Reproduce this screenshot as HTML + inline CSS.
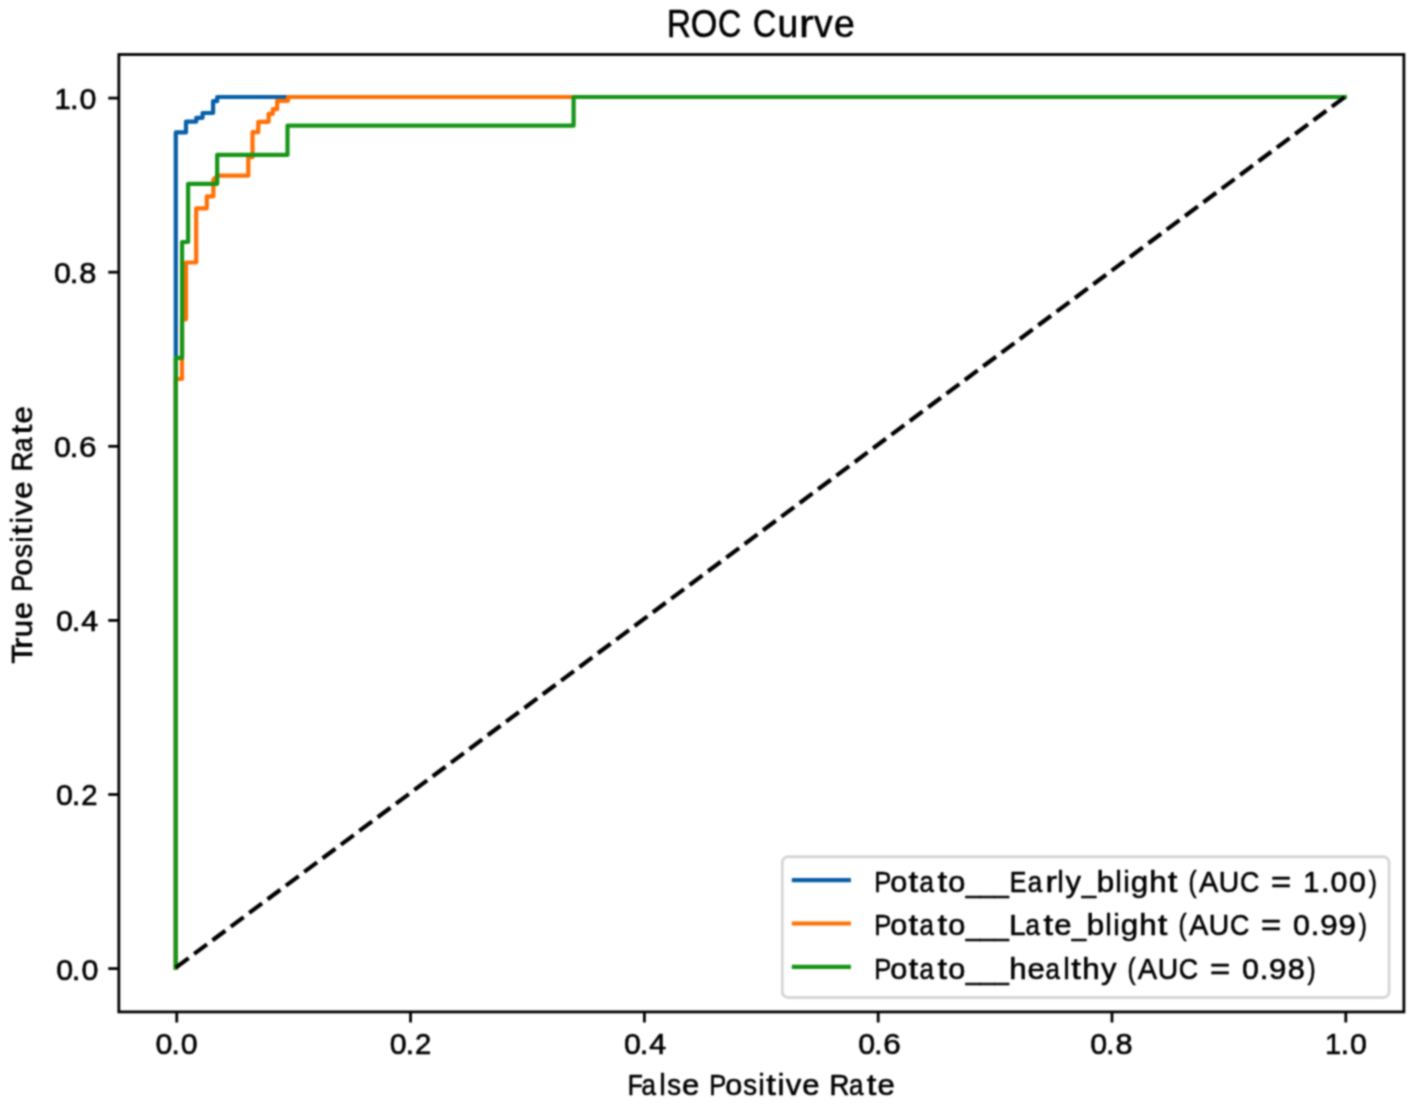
<!DOCTYPE html>
<html>
<head>
<meta charset="utf-8">
<title>ROC Curve</title>
<style>
html,body{margin:0;padding:0;background:#fff;}
body{width:1417px;height:1106px;overflow:hidden;}
svg{display:block;}
text{font-family:"Liberation Sans",sans-serif;fill:#000;stroke:#000;stroke-width:0.6;stroke-linejoin:round;}
</style>
</head>
<body>
<svg width="1417" height="1106" viewBox="0 0 1417 1106">
<defs><filter id="soft" x="0" y="0" width="1417" height="1106" filterUnits="userSpaceOnUse" color-interpolation-filters="sRGB"><feConvolveMatrix order="5" kernelMatrix="0.00087 0.00695 0.01388 0.00695 0.00087 0.00695 0.05540 0.11068 0.05540 0.00695 0.01388 0.11068 0.22111 0.11068 0.01388 0.00695 0.05540 0.11068 0.05540 0.00695 0.00087 0.00695 0.01388 0.00695 0.00087" divisor="1" edgeMode="duplicate" preserveAlpha="false"/></filter></defs>
<rect x="0" y="0" width="1417" height="1106" fill="#fff"/>
<g filter="url(#soft)">
<g><text transform="translate(679.57,36.60) scale(0.860,1)" x="-14.59" font-size="38.50">R</text><text transform="translate(704.00,36.60) scale(0.888,1)" x="-14.96" font-size="38.50">O</text><text transform="translate(729.73,36.60) scale(0.834,1)" x="-14.15" font-size="38.50">C</text><text transform="translate(764.89,36.60) scale(0.834,1)" x="-14.15" font-size="38.50">C</text><text transform="translate(787.80,36.60) scale(0.969,1)" x="-10.68" font-size="38.50">u</text><text transform="translate(807.55,36.60) scale(1.150,1)" x="-7.37" font-size="38.50">r</text><text transform="translate(823.33,36.60) scale(0.970,1)" x="-9.62" font-size="38.50">v</text><text transform="translate(844.24,36.60) scale(0.971,1)" x="-10.67" font-size="38.50">e</text></g>
<g fill="none" stroke-width="4.2" stroke-linejoin="round" stroke-linecap="square">
<polyline stroke="#075fa8" points="175.8,967.6 175.8,132.4 186,132.4 186,121.6 196.3,121.6 196.3,117.8 202.6,117.8 202.6,113 213.1,113 213.1,101.2 217.2,101.2 217.2,97 1344.8,97"/>
<polyline stroke="#ff7005" points="175.8,967.6 175.8,379 182,379 182,319.3 186,319.3 186,262.5 196.2,262.5 196.2,208.3 206.8,208.3 206.8,196.3 213.4,196.3 213.4,179.5 217.5,175.7 248.3,175.7 248.3,157.2 252.5,157.2 252.5,132.2 258.3,132.2 258.3,121.8 268.6,121.8 268.6,113.8 272.8,113.8 272.8,109.2 277.2,109.2 277.2,100.8 288,100.8 288,97 1344.8,97"/>
<polyline stroke="#169516" points="175.8,967.6 175.8,357.8 182.1,357.8 182.1,242 188.1,242 188.1,183.8 217.2,183.8 217.2,154.9 287.5,154.9 287.5,125.7 573.6,125.7 573.6,97 1344.8,97"/>
<line x1="175.8" y1="967.6" x2="1344.8" y2="97" stroke="#000" stroke-linecap="butt" stroke-dasharray="15.97 6.91"/>
</g>
<rect x="118.85" y="54.5" width="1285.05" height="957.40" fill="none" stroke="#000" stroke-width="2.8" stroke-linejoin="miter"/>
<g stroke="#000" stroke-width="2.8">
<line x1="108.25" y1="968.60" x2="118.85" y2="968.60"/>
<line x1="108.25" y1="794.50" x2="118.85" y2="794.50"/>
<line x1="108.25" y1="620.40" x2="118.85" y2="620.40"/>
<line x1="108.25" y1="446.30" x2="118.85" y2="446.30"/>
<line x1="108.25" y1="272.20" x2="118.85" y2="272.20"/>
<line x1="108.25" y1="98.10" x2="118.85" y2="98.10"/>
<line x1="176.75" y1="1011.90" x2="176.75" y2="1022.50"/>
<line x1="410.56" y1="1011.90" x2="410.56" y2="1022.50"/>
<line x1="644.37" y1="1011.90" x2="644.37" y2="1022.50"/>
<line x1="878.18" y1="1011.90" x2="878.18" y2="1022.50"/>
<line x1="1111.99" y1="1011.90" x2="1111.99" y2="1022.50"/>
<line x1="1345.80" y1="1011.90" x2="1345.80" y2="1022.50"/>
</g>
<g><text transform="translate(64.75,979.50) scale(1.014,1)" x="-8.34" font-size="30.00">0</text><text transform="translate(76.05,979.50) scale(1.040,1)" x="-4.17" font-size="30.00">.</text><text transform="translate(89.85,979.50) scale(1.014,1)" x="-8.34" font-size="30.00">0</text></g>
<g><text transform="translate(64.50,805.40) scale(1.014,1)" x="-8.34" font-size="30.00">0</text><text transform="translate(76.05,805.40) scale(1.040,1)" x="-4.17" font-size="30.00">.</text><text transform="translate(89.45,805.40) scale(0.977,1)" x="-8.34" font-size="30.00">2</text></g>
<g><text transform="translate(64.50,631.30) scale(1.014,1)" x="-8.34" font-size="30.00">0</text><text transform="translate(76.05,631.30) scale(1.040,1)" x="-4.17" font-size="30.00">.</text><text transform="translate(89.60,631.30) scale(1.014,1)" x="-8.25" font-size="30.00">4</text></g>
<g><text transform="translate(62.50,457.20) scale(1.014,1)" x="-8.34" font-size="30.00">0</text><text transform="translate(74.10,457.20) scale(1.040,1)" x="-4.17" font-size="30.00">.</text><text transform="translate(87.80,457.20) scale(1.049,1)" x="-8.45" font-size="30.00">6</text></g>
<g><text transform="translate(62.50,283.10) scale(1.014,1)" x="-8.34" font-size="30.00">0</text><text transform="translate(74.10,283.10) scale(1.040,1)" x="-4.17" font-size="30.00">.</text><text transform="translate(87.90,283.10) scale(1.025,1)" x="-8.34" font-size="30.00">8</text></g>
<g><text transform="translate(63.00,109.00) scale(0.968,1)" x="-8.75" font-size="30.00">1</text><text transform="translate(74.35,109.00) scale(1.040,1)" x="-4.17" font-size="30.00">.</text><text transform="translate(87.90,109.00) scale(1.014,1)" x="-8.34" font-size="30.00">0</text></g>
<g><text transform="translate(163.90,1054.00) scale(1.014,1)" x="-8.34" font-size="30.00">0</text><text transform="translate(175.60,1054.00) scale(1.040,1)" x="-4.17" font-size="30.00">.</text><text transform="translate(189.25,1054.00) scale(1.014,1)" x="-8.34" font-size="30.00">0</text></g>
<g><text transform="translate(398.31,1054.00) scale(1.014,1)" x="-8.34" font-size="30.00">0</text><text transform="translate(409.86,1054.00) scale(1.040,1)" x="-4.17" font-size="30.00">.</text><text transform="translate(423.21,1054.00) scale(0.977,1)" x="-8.34" font-size="30.00">2</text></g>
<g><text transform="translate(632.47,1054.00) scale(1.014,1)" x="-8.34" font-size="30.00">0</text><text transform="translate(643.97,1054.00) scale(1.040,1)" x="-4.17" font-size="30.00">.</text><text transform="translate(657.57,1054.00) scale(1.014,1)" x="-8.25" font-size="30.00">4</text></g>
<g><text transform="translate(866.68,1054.00) scale(1.014,1)" x="-8.34" font-size="30.00">0</text><text transform="translate(878.28,1054.00) scale(1.040,1)" x="-4.17" font-size="30.00">.</text><text transform="translate(892.08,1054.00) scale(1.049,1)" x="-8.45" font-size="30.00">6</text></g>
<g><text transform="translate(1098.79,1054.00) scale(1.014,1)" x="-8.34" font-size="30.00">0</text><text transform="translate(1110.39,1054.00) scale(1.040,1)" x="-4.17" font-size="30.00">.</text><text transform="translate(1124.09,1054.00) scale(1.025,1)" x="-8.34" font-size="30.00">8</text></g>
<g><text transform="translate(1333.40,1054.00) scale(0.968,1)" x="-8.75" font-size="30.00">1</text><text transform="translate(1344.80,1054.00) scale(1.040,1)" x="-4.17" font-size="30.00">.</text><text transform="translate(1358.40,1054.00) scale(1.014,1)" x="-8.34" font-size="30.00">0</text></g>
<g><text transform="translate(635.81,1094.80) scale(0.824,1)" x="-9.79" font-size="30.00">F</text><text transform="translate(649.28,1094.80) scale(0.865,1)" x="-8.98" font-size="30.00">a</text><text transform="translate(662.57,1094.80) scale(0.983,1)" x="-3.34" font-size="30.00">l</text><text transform="translate(674.17,1094.80) scale(0.922,1)" x="-7.38" font-size="30.00">s</text><text transform="translate(690.51,1094.80) scale(1.039,1)" x="-8.31" font-size="30.00">e</text><text transform="translate(718.15,1094.80) scale(0.850,1)" x="-10.45" font-size="30.00">P</text><text transform="translate(733.73,1094.80) scale(1.022,1)" x="-8.34" font-size="30.00">o</text><text transform="translate(750.14,1094.80) scale(0.922,1)" x="-7.38" font-size="30.00">s</text><text transform="translate(761.59,1094.80) scale(0.983,1)" x="-3.33" font-size="30.00">i</text><text transform="translate(771.29,1094.80) scale(1.150,1)" x="-4.29" font-size="30.00">t</text><text transform="translate(780.92,1094.80) scale(0.983,1)" x="-3.33" font-size="30.00">i</text><text transform="translate(793.46,1094.80) scale(1.038,1)" x="-7.50" font-size="30.00">v</text><text transform="translate(810.90,1094.80) scale(1.039,1)" x="-8.31" font-size="30.00">e</text><text transform="translate(839.94,1094.80) scale(0.920,1)" x="-11.37" font-size="30.00">R</text><text transform="translate(856.72,1094.80) scale(0.865,1)" x="-8.98" font-size="30.00">a</text><text transform="translate(871.70,1094.80) scale(1.150,1)" x="-4.29" font-size="30.00">t</text><text transform="translate(886.22,1094.80) scale(1.039,1)" x="-8.31" font-size="30.00">e</text></g>
<g><text transform="translate(32.00,654.18) rotate(-90) scale(1.049,1)" x="-9.16" font-size="30.00">T</text><text transform="translate(32.00,642.37) rotate(-90) scale(1.150,1)" x="-5.74" font-size="30.00">r</text><text transform="translate(32.00,628.69) rotate(-90) scale(1.037,1)" x="-8.32" font-size="30.00">u</text><text transform="translate(32.00,610.56) rotate(-90) scale(1.039,1)" x="-8.31" font-size="30.00">e</text><text transform="translate(32.00,582.92) rotate(-90) scale(0.850,1)" x="-10.45" font-size="30.00">P</text><text transform="translate(32.00,567.34) rotate(-90) scale(1.022,1)" x="-8.34" font-size="30.00">o</text><text transform="translate(32.00,550.93) rotate(-90) scale(0.922,1)" x="-7.38" font-size="30.00">s</text><text transform="translate(32.00,539.48) rotate(-90) scale(0.983,1)" x="-3.33" font-size="30.00">i</text><text transform="translate(32.00,529.78) rotate(-90) scale(1.150,1)" x="-4.29" font-size="30.00">t</text><text transform="translate(32.00,520.15) rotate(-90) scale(0.983,1)" x="-3.33" font-size="30.00">i</text><text transform="translate(32.00,507.62) rotate(-90) scale(1.038,1)" x="-7.50" font-size="30.00">v</text><text transform="translate(32.00,490.18) rotate(-90) scale(1.039,1)" x="-8.31" font-size="30.00">e</text><text transform="translate(32.00,461.14) rotate(-90) scale(0.920,1)" x="-11.37" font-size="30.00">R</text><text transform="translate(32.00,444.35) rotate(-90) scale(0.865,1)" x="-8.98" font-size="30.00">a</text><text transform="translate(32.00,429.37) rotate(-90) scale(1.150,1)" x="-4.29" font-size="30.00">t</text><text transform="translate(32.00,414.85) rotate(-90) scale(1.039,1)" x="-8.31" font-size="30.00">e</text></g>
<rect x="782.3" y="856.7" width="606.80" height="140.80" rx="5.8" ry="5.8" fill="#fff" stroke="#d6d6d6" stroke-width="2.88"/>
<line x1="793.9" y1="880.2" x2="848.8" y2="880.2" stroke="#075fa8" stroke-width="4.2" stroke-linecap="square"/>
<g><text transform="translate(883.22,892.00) scale(0.850,1)" x="-10.45" font-size="30.00">P</text><text transform="translate(898.80,892.00) scale(1.022,1)" x="-8.34" font-size="30.00">o</text><text transform="translate(913.32,892.00) scale(1.150,1)" x="-4.29" font-size="30.00">t</text><text transform="translate(927.33,892.00) scale(0.865,1)" x="-8.98" font-size="30.00">a</text><text transform="translate(942.31,892.00) scale(1.150,1)" x="-4.29" font-size="30.00">t</text><text transform="translate(956.76,892.00) scale(1.022,1)" x="-8.34" font-size="30.00">o</text><text transform="translate(972.79,892.00) scale(0.858,1)" x="-8.28" font-size="30.00">_</text><text transform="translate(987.21,892.00) scale(0.858,1)" x="-8.28" font-size="30.00">_</text><text transform="translate(1001.64,892.00) scale(0.858,1)" x="-8.28" font-size="30.00">_</text><text transform="translate(1018.46,892.00) scale(0.833,1)" x="-10.59" font-size="30.00">E</text><text transform="translate(1035.47,892.00) scale(0.865,1)" x="-8.98" font-size="30.00">a</text><text transform="translate(1052.00,892.00) scale(1.150,1)" x="-5.74" font-size="30.00">r</text><text transform="translate(1060.63,892.00) scale(0.983,1)" x="-3.34" font-size="30.00">l</text><text transform="translate(1073.17,892.00) scale(1.033,1)" x="-7.51" font-size="30.00">y</text><text transform="translate(1088.92,892.00) scale(0.858,1)" x="-8.28" font-size="30.00">_</text><text transform="translate(1105.81,892.00) scale(1.046,1)" x="-8.68" font-size="30.00">b</text><text transform="translate(1118.46,892.00) scale(0.983,1)" x="-3.34" font-size="30.00">l</text><text transform="translate(1126.47,892.00) scale(0.983,1)" x="-3.33" font-size="30.00">i</text><text transform="translate(1139.12,892.00) scale(1.045,1)" x="-8.01" font-size="30.00">g</text><text transform="translate(1158.01,892.00) scale(1.044,1)" x="-8.41" font-size="30.00">h</text><text transform="translate(1172.77,892.00) scale(1.150,1)" x="-4.29" font-size="30.00">t</text><text transform="translate(1193.27,892.00) scale(0.813,1)" x="-5.84" font-size="30.00">(</text><text transform="translate(1208.67,892.00) scale(0.969,1)" x="-10.01" font-size="30.00">A</text><text transform="translate(1229.10,892.00) scale(0.945,1)" x="-10.83" font-size="30.00">U</text><text transform="translate(1249.76,892.00) scale(0.893,1)" x="-11.02" font-size="30.00">C</text><text transform="translate(1281.06,892.00) scale(1.150,1)" x="-8.75" font-size="30.00">=</text><text transform="translate(1311.75,892.00) scale(0.968,1)" x="-8.75" font-size="30.00">1</text><text transform="translate(1325.25,892.00) scale(1.040,1)" x="-4.17" font-size="30.00">.</text><text transform="translate(1339.02,892.00) scale(1.014,1)" x="-8.34" font-size="30.00">0</text><text transform="translate(1357.37,892.00) scale(1.014,1)" x="-8.34" font-size="30.00">0</text><text transform="translate(1372.10,892.00) scale(0.813,1)" x="-4.15" font-size="30.00">)</text></g>
<line x1="793.9" y1="923.5" x2="848.8" y2="923.5" stroke="#ff7005" stroke-width="4.2" stroke-linecap="square"/>
<g><text transform="translate(883.22,935.30) scale(0.850,1)" x="-10.45" font-size="30.00">P</text><text transform="translate(898.80,935.30) scale(1.022,1)" x="-8.34" font-size="30.00">o</text><text transform="translate(913.32,935.30) scale(1.150,1)" x="-4.29" font-size="30.00">t</text><text transform="translate(927.33,935.30) scale(0.865,1)" x="-8.98" font-size="30.00">a</text><text transform="translate(942.31,935.30) scale(1.150,1)" x="-4.29" font-size="30.00">t</text><text transform="translate(956.76,935.30) scale(1.022,1)" x="-8.34" font-size="30.00">o</text><text transform="translate(972.79,935.30) scale(0.858,1)" x="-8.28" font-size="30.00">_</text><text transform="translate(987.21,935.30) scale(0.858,1)" x="-8.28" font-size="30.00">_</text><text transform="translate(1001.64,935.30) scale(0.858,1)" x="-8.28" font-size="30.00">_</text><text transform="translate(1018.22,935.30) scale(0.989,1)" x="-9.08" font-size="30.00">L</text><text transform="translate(1033.32,935.30) scale(0.865,1)" x="-8.98" font-size="30.00">a</text><text transform="translate(1048.30,935.30) scale(1.150,1)" x="-4.29" font-size="30.00">t</text><text transform="translate(1062.82,935.30) scale(1.039,1)" x="-8.31" font-size="30.00">e</text><text transform="translate(1078.87,935.30) scale(0.858,1)" x="-8.28" font-size="30.00">_</text><text transform="translate(1095.76,935.30) scale(1.046,1)" x="-8.68" font-size="30.00">b</text><text transform="translate(1108.41,935.30) scale(0.983,1)" x="-3.34" font-size="30.00">l</text><text transform="translate(1116.43,935.30) scale(0.983,1)" x="-3.33" font-size="30.00">i</text><text transform="translate(1129.07,935.30) scale(1.045,1)" x="-8.01" font-size="30.00">g</text><text transform="translate(1147.97,935.30) scale(1.044,1)" x="-8.41" font-size="30.00">h</text><text transform="translate(1162.73,935.30) scale(1.150,1)" x="-4.29" font-size="30.00">t</text><text transform="translate(1183.22,935.30) scale(0.813,1)" x="-5.84" font-size="30.00">(</text><text transform="translate(1198.63,935.30) scale(0.969,1)" x="-10.01" font-size="30.00">A</text><text transform="translate(1219.06,935.30) scale(0.945,1)" x="-10.83" font-size="30.00">U</text><text transform="translate(1239.72,935.30) scale(0.893,1)" x="-11.02" font-size="30.00">C</text><text transform="translate(1271.02,935.30) scale(1.150,1)" x="-8.75" font-size="30.00">=</text><text transform="translate(1301.45,935.30) scale(1.014,1)" x="-8.34" font-size="30.00">0</text><text transform="translate(1315.20,935.30) scale(1.040,1)" x="-4.17" font-size="30.00">.</text><text transform="translate(1328.87,935.30) scale(1.047,1)" x="-8.34" font-size="30.00">9</text><text transform="translate(1347.23,935.30) scale(1.047,1)" x="-8.34" font-size="30.00">9</text><text transform="translate(1362.06,935.30) scale(0.813,1)" x="-4.15" font-size="30.00">)</text></g>
<line x1="793.9" y1="966.9" x2="848.8" y2="966.9" stroke="#169516" stroke-width="4.2" stroke-linecap="square"/>
<g><text transform="translate(883.22,978.60) scale(0.850,1)" x="-10.45" font-size="30.00">P</text><text transform="translate(898.80,978.60) scale(1.022,1)" x="-8.34" font-size="30.00">o</text><text transform="translate(913.32,978.60) scale(1.150,1)" x="-4.29" font-size="30.00">t</text><text transform="translate(927.33,978.60) scale(0.865,1)" x="-8.98" font-size="30.00">a</text><text transform="translate(942.31,978.60) scale(1.150,1)" x="-4.29" font-size="30.00">t</text><text transform="translate(956.76,978.60) scale(1.022,1)" x="-8.34" font-size="30.00">o</text><text transform="translate(972.79,978.60) scale(0.858,1)" x="-8.28" font-size="30.00">_</text><text transform="translate(987.21,978.60) scale(0.858,1)" x="-8.28" font-size="30.00">_</text><text transform="translate(1001.64,978.60) scale(0.858,1)" x="-8.28" font-size="30.00">_</text><text transform="translate(1018.08,978.60) scale(1.044,1)" x="-8.41" font-size="30.00">h</text><text transform="translate(1036.04,978.60) scale(1.039,1)" x="-8.31" font-size="30.00">e</text><text transform="translate(1053.28,978.60) scale(0.865,1)" x="-8.98" font-size="30.00">a</text><text transform="translate(1066.58,978.60) scale(0.983,1)" x="-3.34" font-size="30.00">l</text><text transform="translate(1076.28,978.60) scale(1.150,1)" x="-4.29" font-size="30.00">t</text><text transform="translate(1091.12,978.60) scale(1.044,1)" x="-8.41" font-size="30.00">h</text><text transform="translate(1108.71,978.60) scale(1.033,1)" x="-7.51" font-size="30.00">y</text><text transform="translate(1132.13,978.60) scale(0.813,1)" x="-5.84" font-size="30.00">(</text><text transform="translate(1147.53,978.60) scale(0.969,1)" x="-10.01" font-size="30.00">A</text><text transform="translate(1167.97,978.60) scale(0.945,1)" x="-10.83" font-size="30.00">U</text><text transform="translate(1188.63,978.60) scale(0.893,1)" x="-11.02" font-size="30.00">C</text><text transform="translate(1219.93,978.60) scale(1.150,1)" x="-8.75" font-size="30.00">=</text><text transform="translate(1250.35,978.60) scale(1.014,1)" x="-8.34" font-size="30.00">0</text><text transform="translate(1264.11,978.60) scale(1.040,1)" x="-4.17" font-size="30.00">.</text><text transform="translate(1277.78,978.60) scale(1.047,1)" x="-8.34" font-size="30.00">9</text><text transform="translate(1296.24,978.60) scale(1.025,1)" x="-8.34" font-size="30.00">8</text><text transform="translate(1310.96,978.60) scale(0.813,1)" x="-4.15" font-size="30.00">)</text></g>
</g>
</svg>
</body>
</html>
